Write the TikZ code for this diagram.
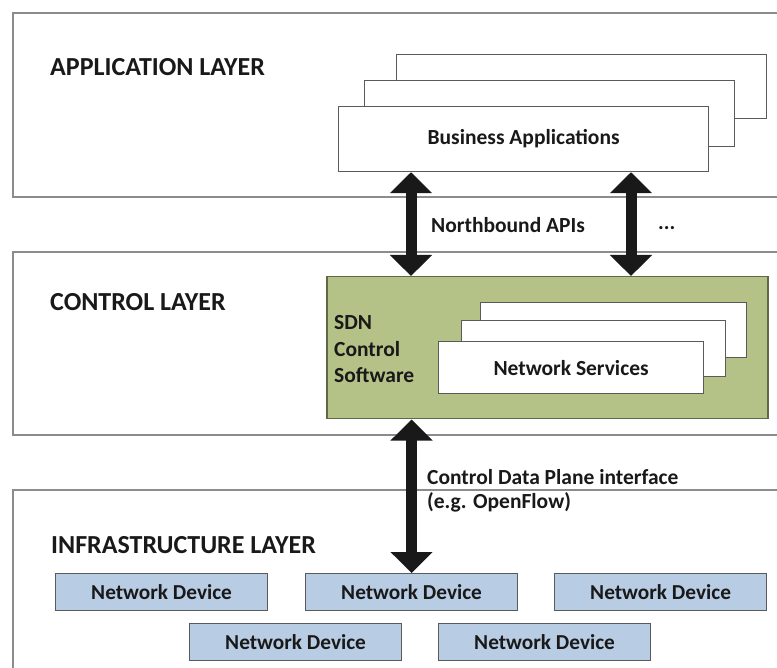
\documentclass[tikz,border=0pt]{standalone}
\usepackage{fontspec}
\setmainfont{Carlito}
\usetikzlibrary{arrows.meta}
\definecolor{layergray}{RGB}{140,140,140}
\definecolor{boxgray}{RGB}{90,90,90}
\definecolor{sdngreen}{RGB}{180,193,135}
\definecolor{sdnborder}{RGB}{95,105,70}
\definecolor{devblue}{RGB}{184,204,228}
\definecolor{inkblack}{RGB}{25,25,25}
\tikzset{
  layerbox/.style={draw=layergray, line width=1.8pt, fill=white, anchor=north west, inner sep=0pt},
  layertitle/.style={anchor=west, font=\fontsize{26}{30}\selectfont\bfseries, text=inkblack, inner sep=0pt},
  plainbox/.style={draw=boxgray, line width=1.2pt, fill=white, anchor=north west, inner sep=0pt},
  boxtext/.style={font=\fontsize{21.5}{25}\selectfont\bfseries, text=inkblack, inner sep=0pt},
  device/.style={draw=boxgray, line width=1.2pt, fill=devblue, anchor=north west, inner sep=0pt,
                 minimum width=212pt, minimum height=37pt, font=\fontsize{21.3}{25}\selectfont\bfseries, text=inkblack},
  bigarrow/.style={line width=11pt, inkblack,
                   {Triangle[width=41pt,length=21pt]}-{Triangle[width=41pt,length=21pt]}},
}
\begin{document}
\begin{tikzpicture}[x=1pt,y=-1pt]
  \useasboundingbox (0,0) rectangle (777,668);
  \clip (0,0) rectangle (777,668);

  % layer frames
  \node[layerbox, minimum width=800pt, minimum height=184pt] (app) at (12,12) {};
  \node[layerbox, minimum width=800pt, minimum height=183pt] (ctrl) at (12,251) {};
  \node[layerbox, minimum width=800pt, minimum height=200pt] (infra) at (12,489) {};

  \node[layertitle] (apptitle) at (50,67) {APPLICATION LAYER};
  \node[layertitle] (ctrltitle) at (50,302) {CONTROL LAYER};
  \node[layertitle] (infratitle) at (51,545) {INFRASTRUCTURE LAYER};

  % stacked business applications
  \node[plainbox, minimum width=370pt, minimum height=64pt] (appC) at (396,54) {};
  \node[plainbox, minimum width=370pt, minimum height=66pt] (appB) at (364,80) {};
  \node[plainbox, minimum width=370pt, minimum height=65pt] (appA) at (338,106) {};
  \node[boxtext] (apptext) at (appA.center) {Business Applications};

  % SDN controller
  \node[draw=sdnborder, line width=1.5pt, fill=sdngreen, anchor=north west,
        minimum width=441pt, minimum height=142pt, inner sep=0pt] (sdn) at (326,276) {};
  \node[boxtext, anchor=base west, align=left, font=\fontsize{21.5}{26.5}\selectfont\bfseries]
        (sdntext) at (334,383) {SDN\\Control\\Software};

  % stacked network services
  \node[plainbox, minimum width=266pt, minimum height=55pt] (nsC) at (480,302) {};
  \node[plainbox, minimum width=264pt, minimum height=56pt] (nsB) at (461,320) {};
  \node[plainbox, minimum width=265pt, minimum height=52pt] (nsA) at (438,341) {};
  \node[boxtext] (nstext) at (nsA.center) {Network Services};

  % network devices
  \node[device] (d1) at (55,573) {Network Device};
  \node[device] (d2) at (305,573) {Network Device};
  \node[device] (d3) at (554,573) {Network Device};
  \node[device] (d4) at (189,623) {Network Device};
  \node[device] (d5) at (438,623) {Network Device};

  % interface labels
  \node[boxtext, anchor=west] (nbapi) at (431,225) {Northbound APIs};
  \node[boxtext, anchor=west] (dots) at (658,228) {...};
  \node[boxtext, anchor=base west, align=left, font=\fontsize{21.5}{24}\selectfont\bfseries]
        (cdpi) at (427,508) {Control Data Plane interface\\(e.g. OpenFlow)};

  % interfaces between layers
  \coordinate (xL) at (411,0);
  \coordinate (xR) at (631,0);
  \draw[bigarrow] (appA.south -| xL) -- (sdn.north -| xL);
  \draw[bigarrow] (appA.south -| xR) -- (sdn.north -| xR);
  \draw[bigarrow] (sdn.south -| d2.north) -- (d2.north);
\end{tikzpicture}
\end{document}
